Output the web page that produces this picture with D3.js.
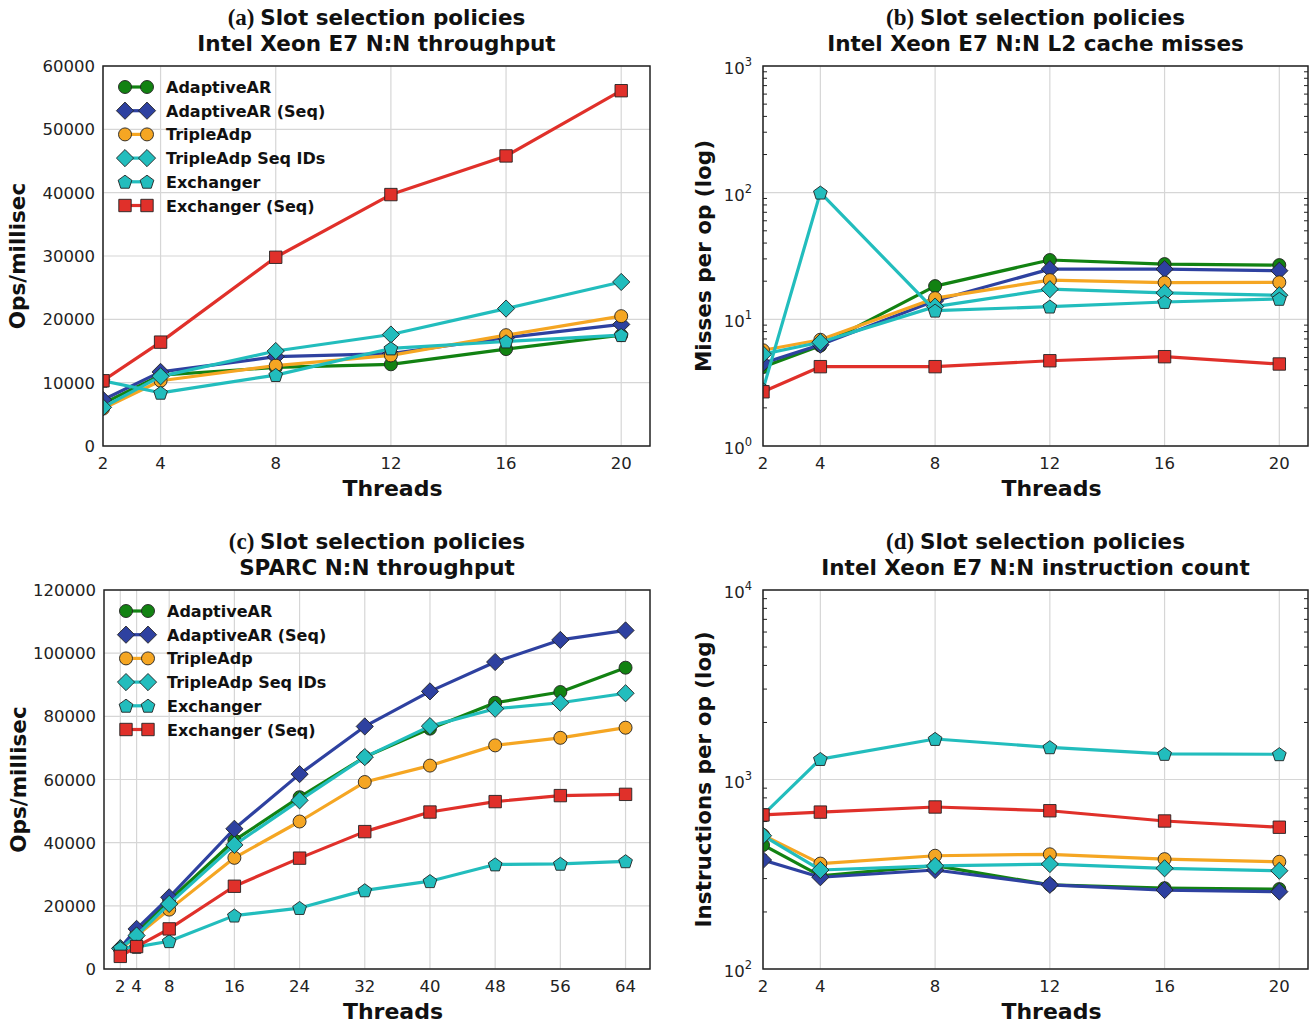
<!DOCTYPE html>
<html>
<head>
<meta charset="utf-8">
<script src="https://cdn.jsdelivr.net/npm/d3@7"></script>
<style>
  html, body { margin: 0; padding: 0; background: #fff; }
  svg { display: block; }
</style>
</head>
<body>
<svg id="chart" width="1314" height="1028"></svg>
<script>
// ---------------- DATA ----------------
const seriesNames = ["AdaptiveAR", "AdaptiveAR (Seq)", "TripleAdp", "TripleAdp Seq IDs", "Exchanger", "Exchanger (Seq)"];
const threadsXeon = [2, 4, 8, 12, 16, 20];
const threadsSparc = [2, 4, 8, 16, 24, 32, 40, 48, 56, 64];

// (a) Intel Xeon E7 N:N throughput (ops/millisec)
const xeonThroughput = {
  "AdaptiveAR":        [6700, 11200, 12400, 12900, 15300, 17500],
  "AdaptiveAR (Seq)":  [7300, 11700, 14100, 14600, 17100, 19200],
  "TripleAdp":         [5900, 10300, 12700, 14300, 17500, 20500],
  "TripleAdp Seq IDs": [6100, 11000, 15000, 17600, 21700, 25900],
  "Exchanger":         [10300, 8400, 11200, 15400, 16500, 17500],
  "Exchanger (Seq)":   [10300, 16400, 29800, 39700, 45800, 56100]
};
// (b) Intel Xeon E7 N:N L2 cache misses per op
const xeonL2Misses = {
  "AdaptiveAR":        [4.2, 6.2, 18.3, 29.4, 27.3, 26.8],
  "AdaptiveAR (Seq)":  [4.5, 6.3, 14.0, 24.9, 24.9, 24.2],
  "TripleAdp":         [5.7, 6.9, 14.7, 20.4, 19.5, 19.6],
  "TripleAdp Seq IDs": [5.3, 6.6, 12.6, 17.3, 16.2, 15.5],
  "Exchanger":         [2.8, 100, 11.7, 12.6, 13.7, 14.5],
  "Exchanger (Seq)":   [2.68, 4.23, 4.23, 4.71, 5.07, 4.44]
};
// (c) SPARC N:N throughput (ops/millisec)
const sparcThroughput = {
  "AdaptiveAR":        [6300, 11500, 21700, 40700, 54400, 67100, 76100, 84300, 87700, 95400],
  "AdaptiveAR (Seq)":  [6600, 12700, 22700, 44400, 61700, 76800, 87900, 97200, 104200, 107200],
  "TripleAdp":         [6200, 10500, 18800, 35200, 46700, 59200, 64400, 70800, 73200, 76400],
  "TripleAdp Seq IDs": [6500, 10600, 20600, 39300, 53400, 67100, 76900, 82400, 84300, 87300],
  "Exchanger":         [6600, 7000, 8800, 16900, 19300, 24900, 27800, 33100, 33300, 34100],
  "Exchanger (Seq)":   [4000, 7100, 12700, 26200, 35100, 43500, 49700, 53000, 54900, 55300]
};
// (d) Intel Xeon E7 N:N instructions per op
const xeonInstructions = {
  "AdaptiveAR":        [451, 310, 351, 278, 267, 264],
  "AdaptiveAR (Seq)":  [376, 305, 333, 278, 261, 256],
  "TripleAdp":         [509, 360, 396, 403, 380, 368],
  "TripleAdp Seq IDs": [505, 333, 350, 358, 340, 330],
  "Exchanger":         [650, 1282, 1636, 1479, 1364, 1359],
  "Exchanger (Seq)":   [650, 673, 716, 684, 604, 560]
};

const xeonTicks = [2, 4, 8, 12, 16, 20];
const sparcTicks = [2, 4, 8, 16, 24, 32, 40, 48, 56, 64];
const throughputTicksA = [0, 10000, 20000, 30000, 40000, 50000, 60000];
const throughputTicksC = [0, 20000, 40000, 60000, 80000, 100000, 120000];

const panels = [
  { letter: "(a)", title1: "Slot selection policies", title2: "Intel Xeon E7 N:N throughput",
    x: 103, y: 66, w: 547, h: 380, xs: threadsXeon, xDomain: [2, 21], xTicks: xeonTicks,
    log: false, yDomain: [0, 60000], yTicks: throughputTicksA, ylabel: "Ops/millisec",
    data: xeonThroughput, legend: true },
  { letter: "(b)", title1: "Slot selection policies", title2: "Intel Xeon E7 N:N L2 cache misses",
    x: 763, y: 66, w: 545, h: 380, xs: threadsXeon, xDomain: [2, 21], xTicks: xeonTicks,
    log: true, yDomain: [1, 1000], yTicks: [1, 10, 100, 1000], ylabel: "Misses per op (log)",
    data: xeonL2Misses, legend: false },
  { letter: "(c)", title1: "Slot selection policies", title2: "SPARC N:N throughput",
    x: 104, y: 590, w: 546, h: 379, xs: threadsSparc, xDomain: [0, 67], xTicks: sparcTicks,
    log: false, yDomain: [0, 120000], yTicks: throughputTicksC, ylabel: "Ops/millisec",
    data: sparcThroughput, legend: true },
  { letter: "(d)", title1: "Slot selection policies", title2: "Intel Xeon E7 N:N instruction count",
    x: 763, y: 590, w: 545, h: 379, xs: threadsXeon, xDomain: [2, 21], xTicks: xeonTicks,
    log: true, yDomain: [100, 10000], yTicks: [100, 1000, 10000], ylabel: "Instructions per op (log)",
    data: xeonInstructions, legend: false }
];

// ---------------- STYLE ----------------
const colors = {
  "AdaptiveAR": "#128212",
  "AdaptiveAR (Seq)": "#2e41a0",
  "TripleAdp": "#f5a623",
  "TripleAdp Seq IDs": "#22bdbd",
  "Exchanger": "#22bdbd",
  "Exchanger (Seq)": "#e0302a"
};
const markers = {
  "AdaptiveAR": "circle",
  "AdaptiveAR (Seq)": "diamond",
  "TripleAdp": "circle",
  "TripleAdp Seq IDs": "diamond",
  "Exchanger": "pentagon",
  "Exchanger (Seq)": "square"
};
const SANS = "'DejaVu Sans', sans-serif";
const SERIF = "'Liberation Serif', 'DejaVu Serif', serif";

function markerPath(type) {
  if (type === "circle") { const r = 6.5; return `M${-r},0A${r},${r} 0 1,0 ${r},0A${r},${r} 0 1,0 ${-r},0Z`; }
  if (type === "diamond") { const r = 8.6; return `M0,${-r}L${r},0L0,${r}L${-r},0Z`; }
  if (type === "square") { const s = 6.2; return `M${-s},${-s}H${s}V${s}H${-s}Z`; }
  if (type === "pentagon") {
    const r = 7.2; const pts = [];
    for (let i = 0; i < 5; i++) { const a = -Math.PI / 2 + i * 2 * Math.PI / 5; pts.push([r * Math.cos(a), r * Math.sin(a) + 0.6]); }
    return "M" + pts.map(p => p[0].toFixed(2) + "," + p[1].toFixed(2)).join("L") + "Z";
  }
}

const svg = d3.select("#chart");
const defs = svg.append("defs");

panels.forEach((p, pi) => {
  const g = svg.append("g").attr("transform", `translate(${p.x},${p.y})`);
  const xS = d3.scaleLinear().domain(p.xDomain).range([0, p.w]);
  const yS = p.log ? d3.scaleLog().domain(p.yDomain).range([p.h, 0])
                   : d3.scaleLinear().domain(p.yDomain).range([p.h, 0]);

  defs.append("clipPath").attr("id", "clip" + pi)
    .append("rect").attr("x", 0).attr("y", 0).attr("width", p.w).attr("height", p.h);

  // grid
  const grid = g.append("g");
  grid.selectAll("line.gx").data(p.xTicks).join("line")
    .attr("x1", d => xS(d)).attr("x2", d => xS(d)).attr("y1", 0).attr("y2", p.h)
    .attr("stroke", "#d6d6d6").attr("stroke-width", 1.2);
  grid.selectAll("line.gy").data(p.yTicks).join("line")
    .attr("y1", d => yS(d)).attr("y2", d => yS(d)).attr("x1", 0).attr("x2", p.w)
    .attr("stroke", "#d6d6d6").attr("stroke-width", 1.2);

  // minor ticks for log axes (inward, left and right)
  if (p.log) {
    const minors = [];
    const lo = Math.log10(p.yDomain[0]), hi = Math.log10(p.yDomain[1]);
    for (let e = lo; e < hi; e++) for (let k = 2; k <= 9; k++) minors.push(k * Math.pow(10, e));
    const mt = g.append("g");
    mt.selectAll("line.ml").data(minors).join("line")
      .attr("x1", 0).attr("x2", 4).attr("y1", d => yS(d)).attr("y2", d => yS(d))
      .attr("stroke", "#222").attr("stroke-width", 1);
    mt.selectAll("line.mr").data(minors).join("line")
      .attr("x1", p.w).attr("x2", p.w - 4).attr("y1", d => yS(d)).attr("y2", d => yS(d))
      .attr("stroke", "#222").attr("stroke-width", 1);
  }

  // series
  const plot = g.append("g").attr("clip-path", `url(#clip${pi})`);
  const line = d3.line().x((d, i) => xS(p.xs[i])).y(d => yS(d));
  seriesNames.forEach(name => {
    const vals = p.data[name];
    plot.append("path").attr("d", line(vals)).attr("fill", "none")
      .attr("stroke", colors[name]).attr("stroke-width", 3.2).attr("stroke-linejoin", "round");
    plot.selectAll(null).data(vals).join("path")
      .attr("d", markerPath(markers[name]))
      .attr("transform", (d, i) => `translate(${xS(p.xs[i])},${yS(d)})`)
      .attr("fill", colors[name]).attr("stroke", "#222").attr("stroke-width", 0.9);
  });

  // frame
  g.append("rect").attr("x", 0).attr("y", 0).attr("width", p.w).attr("height", p.h)
    .attr("fill", "none").attr("stroke", "#222").attr("stroke-width", 1.5);

  // x tick labels
  g.append("g").selectAll("text").data(p.xTicks).join("text")
    .attr("x", d => xS(d)).attr("y", p.h + 23)
    .attr("text-anchor", "middle").attr("font-family", SANS).attr("font-size", 16.5).attr("fill", "#222")
    .text(d => d);

  // y tick labels
  const yl = g.append("g");
  if (!p.log) {
    yl.selectAll("text").data(p.yTicks).join("text")
      .attr("x", -8).attr("y", d => yS(d) + 6)
      .attr("text-anchor", "end").attr("font-family", SANS).attr("font-size", 16.5).attr("fill", "#222")
      .text(d => d);
  } else {
    const t = yl.selectAll("text").data(p.yTicks).join("text")
      .attr("x", -11).attr("y", d => yS(d) + 8)
      .attr("text-anchor", "end").attr("font-family", SANS).attr("font-size", 16.5).attr("fill", "#222");
    t.append("tspan").text("10");
    t.append("tspan").attr("dy", -8).attr("font-size", 11.5).text(d => Math.round(Math.log10(d)));
  }

  // axis labels
  g.append("text").attr("x", p.w / 2 + 16).attr("y", p.h + 50)
    .attr("text-anchor", "middle").attr("font-family", SANS).attr("font-weight", "bold")
    .attr("font-size", 22).attr("fill", "#111").text("Threads");
  const ylx = p.log ? -52 : -78;
  g.append("text").attr("transform", `translate(${ylx},${p.h / 2}) rotate(-90)`)
    .attr("text-anchor", "middle").attr("font-family", SANS).attr("font-weight", "bold")
    .attr("font-size", 21.5).attr("fill", "#111").text(p.ylabel);

  // title
  const tt = g.append("text").attr("x", p.w / 2).attr("y", -41)
    .attr("text-anchor", "middle").attr("font-family", SANS).attr("font-weight", "bold")
    .attr("font-size", 21.5).attr("fill", "#111");
  tt.append("tspan").attr("font-family", SERIF).attr("font-size", 23).text(p.letter + " ");
  tt.append("tspan").text(p.title1);
  g.append("text").attr("x", p.w / 2).attr("y", -15)
    .attr("text-anchor", "middle").attr("font-family", SANS).attr("font-weight", "bold")
    .attr("font-size", 21.5).attr("fill", "#111").text(p.title2);

  // legend
  if (p.legend) {
    const lg = g.append("g").attr("transform", "translate(0,21)");
    seriesNames.forEach((name, i) => {
      const row = lg.append("g").attr("transform", `translate(0,${i * 23.7})`);
      row.append("line").attr("x1", 22).attr("x2", 44).attr("y1", 0).attr("y2", 0)
        .attr("stroke", colors[name]).attr("stroke-width", 3.2);
      [22, 44].forEach(mx => row.append("path").attr("d", markerPath(markers[name]))
        .attr("transform", `translate(${mx},0)`)
        .attr("fill", colors[name]).attr("stroke", "#222").attr("stroke-width", 0.9));
      row.append("text").attr("x", 63).attr("y", 6)
        .attr("font-family", SANS).attr("font-weight", "bold").attr("font-size", 16)
        .attr("fill", "#111").text(name);
    });
  }
});
</script>
</body>
</html>
